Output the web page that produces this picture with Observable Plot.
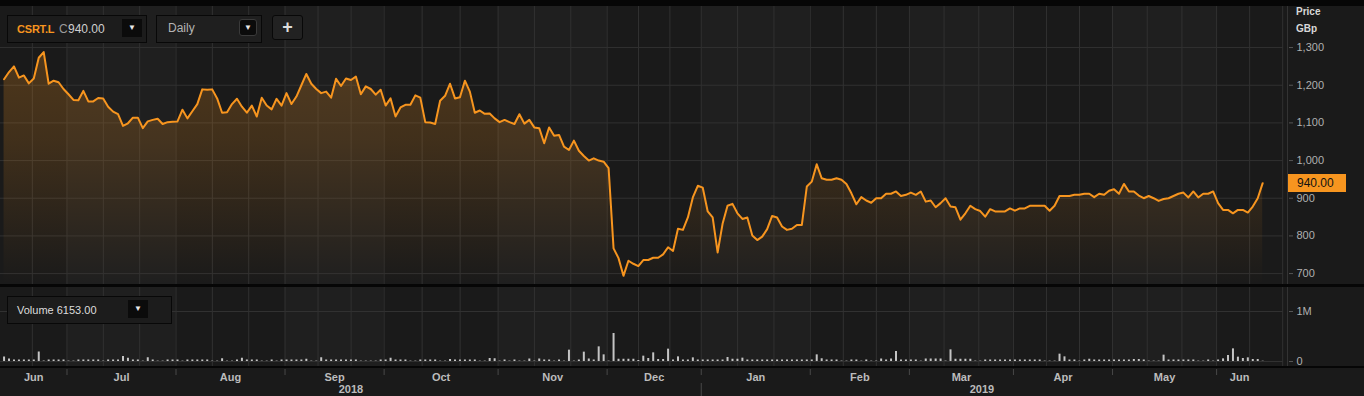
<!DOCTYPE html>
<html>
<head>
<meta charset="utf-8">
<script src="https://cdn.jsdelivr.net/npm/d3@7"></script>
<script src="https://cdn.jsdelivr.net/npm/@observablehq/plot@0.6"></script>
<style>
  body { margin: 0; background: #1a1a1a; }
  #root { position: relative; width: 1364px; height: 396px; overflow: hidden; background: #1a1a1a;
          font-family: "Liberation Sans", Arial, sans-serif; }
  #root > svg { position: absolute; left: 0; }
  .abs { position: absolute; box-sizing: border-box; }
  .bar { background: #060606; left: 0; width: 1364px; }
  .box { border: 1px solid #080808; background: #1c1c1c; }
  .btn { background: #0b0b0b; color: #e8e8e8; font-size: 8px; text-align: center; }
  .txt { white-space: nowrap; line-height: 14px; }
</style>
</head>
<body>
<div id="root"></div>
<script>
// ---------------- data ----------------
const calendarStart = "2018-06-01";
const calendarEnd = "2019-07-05";
const marketHolidays = ["2018-08-27", "2018-12-25", "2018-12-26", "2019-01-01",
                        "2019-04-19", "2019-04-22", "2019-05-06", "2019-05-27"];
const firstDate = "2018-06-13";

// daily close, GBp (one value per trading day from firstDate)
const closes = [
  1216,1235,1250,1220,1226,1205,1218,1273,1288,1204,
  1212,1208,1190,1176,1161,1160,1185,1157,1157,1166,
  1165,1143,1130,1123,1092,1099,1114,1114,1086,1104,
  1108,1111,1097,1102,1103,1104,1135,1112,1131,1150,
  1189,1188,1189,1165,1127,1128,1150,1164,1143,1127,
  1146,1117,1167,1146,1136,1164,1146,1179,1150,1170,
  1200,1230,1204,1190,1179,1183,1167,1217,1198,1218,
  1214,1223,1176,1197,1190,1175,1188,1146,1165,1117,
  1141,1148,1148,1173,1167,1102,1101,1097,1159,1172,
  1204,1165,1168,1212,1183,1127,1133,1124,1125,1112,
  1102,1108,1102,1097,1123,1098,1108,1088,1086,1046,
  1088,1066,1068,1037,1028,1053,1026,1012,1000,1006,
  1000,997,980,767,741,694,734,726,720,736,
  736,742,742,751,770,760,819,816,849,902,
  933,928,865,849,756,832,880,885,860,845,
  849,801,789,798,818,853,849,825,816,819,
  829,829,931,944,990,953,949,949,953,949,
  938,913,884,903,894,888,900,900,912,912,
  918,906,909,915,909,918,891,894,876,887,
  900,878,876,843,860,880,871,866,851,871,
  865,865,865,873,867,873,873,880,880,880,
  880,867,880,906,906,906,909,909,912,912,
  903,912,909,920,924,912,938,918,918,907,
  900,906,900,893,898,900,906,912,915,902,
  918,902,912,912,918,887,869,869,860,869,
  869,862,878,900,940
];

// daily volume, thousands of shares
const volumesK = [
  90,50,30,30,30,30,30,190,10,30,
  30,30,30,8,8,30,30,30,30,30,
  8,30,30,30,100,65,30,30,8,75,
  30,8,8,30,30,30,8,30,30,30,
  30,30,8,8,55,8,8,30,65,30,
  30,30,8,8,30,8,30,30,30,30,
  30,45,8,8,75,30,30,30,30,30,
  30,30,8,8,8,8,30,30,65,30,
  30,30,8,8,30,30,30,30,8,8,
  40,30,30,30,30,30,8,8,60,55,
  8,30,8,30,8,8,50,8,50,30,
  30,8,30,8,227,8,30,187,50,30,
  293,133,8,560,45,45,45,45,20,107,
  60,173,40,40,247,30,93,30,30,73,
  30,30,30,30,30,30,80,45,45,67,
  30,30,30,30,30,30,30,30,30,30,
  30,30,30,30,133,55,30,30,30,8,
  8,30,30,8,30,8,8,50,30,50,
  200,30,30,30,30,8,50,50,50,50,
  8,233,45,45,45,45,8,8,30,30,
  30,30,30,30,30,30,30,30,30,30,
  8,8,8,147,93,30,30,8,30,45,
  30,30,30,30,30,30,30,30,40,40,
  30,8,8,8,127,30,30,30,30,30,
  30,8,8,30,8,30,53,120,253,87,
  60,73,40,40,6.153
];

const priceTicks = [700, 800, 900, 1000, 1100, 1200, 1300];
const volumeTicks = [0, 1000000];
const tickerName = "CSRT.L";
const lastCloseText = "940.00";
const lastVolumeText = "6153.00";
const intervalName = "Daily";

// ---------------- layout constants ----------------
const W = 1364, MR = 81;
const FONT = '"Liberation Sans", Arial, sans-serif';
const xDomain = [7.28, 266.2];          // trading-day index range shown
const priceDomain = [671, 1409];
const volumeDomain = [-100000, 1480000];
const ORANGE = "#f7951f";
const GRID = "#313131";
const SHIFT = 0.3;

// ---------------- trading calendar ----------------
const tradingDays = [];
for (let d = new Date(calendarStart + "T00:00:00Z"); d <= new Date(calendarEnd + "T00:00:00Z"); d.setUTCDate(d.getUTCDate() + 1)) {
  const wd = d.getUTCDay();
  const iso = d.toISOString().slice(0, 10);
  if (wd === 0 || wd === 6 || marketHolidays.includes(iso)) continue;
  tradingDays.push(iso);
}
const first = tradingDays.indexOf(firstDate);
const n = Math.min(closes.length, volumesK.length);
const series = d3.range(n).map(k => ({c: first + k, date: tradingDays[first + k], price: closes[k], volume: volumesK[k] * 1000}));
const lastC = series[n - 1].c;

const months = [];
tradingDays.forEach((d, i) => {
  const key = d.slice(0, 7);
  if (!months.length || months[months.length - 1].key !== key) months.push({key, start: i});
});
months.forEach((m, k) => {
  m.end = k + 1 < months.length ? months[k + 1].start : tradingDays.length;
  m.x1 = m.start - SHIFT; m.x2 = m.end - SHIFT;
  m.shade = k % 2 === 0 ? "#1a1a1a" : "#1f1f1f";
  m.name = d3.utcFormat("%b")(new Date(m.key + "-01T00:00:00Z"));
  m.year = m.key.slice(0, 4);
});
const gridXs = months.flatMap(m => [0, 1, 2].map(k => m.x1 + k * (m.x2 - m.x1) / 3))
  .filter(v => v >= xDomain[0] && v <= xDomain[1]);
const monthTicks = months.map(m => m.x1).filter(v => v > xDomain[0] && v < xDomain[1]);
const monthLabels = months.filter(m => m.x2 > xDomain[0] && m.x1 < lastC)
  .map(m => ({x: (Math.max(m.x1, xDomain[0]) + Math.min(m.x2, lastC)) / 2, text: m.name}));
const years = d3.groups(months, m => m.year).map(([y, ms]) => ({year: y, x1: ms[0].x1, x2: ms[ms.length - 1].x2}));
const yearLabels = years.filter(y => y.x2 > xDomain[0] && y.x1 < lastC)
  .map(y => ({x: (Math.max(y.x1, xDomain[0]) + Math.min(y.x2, lastC)) / 2, text: y.year}));
const yearTicks = years.map(y => y.x1).filter(v => v > xDomain[0] && v < xDomain[1]);
const monthLabelMap = new Map(monthLabels.map(d => [d.x, d.text]));
const yearLabelMap = new Map(yearLabels.map(d => [d.x, d.text]));

// ---------------- price panel ----------------
const priceChart = Plot.plot({
  width: W, height: 284, marginLeft: 0, marginRight: MR, marginTop: 6, marginBottom: 0,
  x: {domain: xDomain, axis: null},
  y: {domain: priceDomain, axis: null},
  style: {background: "transparent", overflow: "visible", fontFamily: FONT},
  marks: [
    Plot.rect(months, {x1: "x1", x2: "x2", fill: "shade", clip: true}),
    Plot.gridY(priceTicks, {stroke: GRID, strokeOpacity: 1}),
    Plot.ruleX(gridXs, {stroke: GRID, strokeOpacity: 1}),
    Plot.areaY(series, {x: "c", y1: priceDomain[0], y2: "price", fill: "url(#priceGrad)"}),
    Plot.lineY(series, {x: "c", y: "price", stroke: ORANGE, strokeWidth: 2}),
    Plot.ruleX([xDomain[1]], {stroke: "#333", dx: 4}),
    Plot.axisY(priceTicks, {anchor: "right", label: null, tickSize: 4, tickPadding: 4, dx: 5,
      tickFormat: d3.format(","), stroke: "#555", fill: "#b0b0b0", fontSize: 11})
  ]
});
const ys = priceChart.scale("y");
const defs = document.createElementNS("http://www.w3.org/2000/svg", "defs");
const gy1 = ys.apply(priceTicks[priceTicks.length - 1]), gy2 = ys.apply(priceDomain[0]);
defs.innerHTML = `<linearGradient id="priceGrad" gradientUnits="userSpaceOnUse" x1="0" x2="0" y1="${gy1}" y2="${gy2}">
  <stop offset="0" stop-color="${ORANGE}" stop-opacity="0.24"/>
  <stop offset="0.39" stop-color="${ORANGE}" stop-opacity="0.175"/>
  <stop offset="0.77" stop-color="${ORANGE}" stop-opacity="0.065"/>
  <stop offset="1" stop-color="${ORANGE}" stop-opacity="0"/>
</linearGradient>`;
priceChart.prepend(defs);

// ---------------- volume panel ----------------
const volumeChart = Plot.plot({
  width: W, height: 79, marginLeft: 0, marginRight: MR, marginTop: 0, marginBottom: 0,
  x: {domain: xDomain, axis: null},
  y: {domain: volumeDomain, axis: null},
  style: {background: "transparent", overflow: "visible", fontFamily: FONT},
  marks: [
    Plot.rect(months, {x1: "x1", x2: "x2", fill: "shade", clip: true}),
    Plot.gridY(volumeTicks, {stroke: GRID, strokeOpacity: 1}),
    Plot.ruleX(gridXs, {stroke: GRID, strokeOpacity: 1}),
    Plot.ruleX(series, {x: "c", y1: 0, y2: "volume", stroke: "#c4c4c4", strokeWidth: 2}),
    Plot.ruleX([xDomain[1]], {stroke: "#333", dx: 4}),
    Plot.axisY(volumeTicks, {anchor: "right", label: null, tickSize: 4, tickPadding: 4, dx: 5,
      tickFormat: d => d === 0 ? "0" : d3.format(".0s")(d), stroke: "#555", fill: "#b0b0b0", fontSize: 11})
  ]
});

// ---------------- time axis ----------------
const axisChart = Plot.plot({
  width: W, height: 28, marginLeft: 0, marginRight: MR, marginTop: 6, marginBottom: 22,
  x: {domain: xDomain, axis: null},
  style: {background: "transparent", overflow: "visible", fontFamily: FONT},
  marks: [
    Plot.axisX(monthTicks, {anchor: "top", label: null, tickSize: 6, tickFormat: () => "", stroke: "#484848"}),
    Plot.axisX(monthLabels.map(d => d.x), {anchor: "bottom", label: null, tickSize: 0, tickPadding: 0, dy: -1,
      tickFormat: d => monthLabelMap.get(d), fill: "#bcbcbc", fontSize: 11, fontWeight: "bold"}),
    Plot.axisX(yearLabels.map(d => d.x), {anchor: "bottom", label: null, tickSize: 0, tickPadding: 0, dy: 11,
      tickFormat: d => yearLabelMap.get(d), fill: "#bcbcbc", fontSize: 11, fontWeight: "bold"}),
    Plot.axisX(yearTicks, {anchor: "bottom", label: null, tickSize: 13, dy: 9, tickFormat: () => "", stroke: "#484848"})
  ]
});

// ---------------- assemble ----------------
const root = document.getElementById("root");
priceChart.style.top = "0px"; root.appendChild(priceChart);
volumeChart.style.top = "287px"; root.appendChild(volumeChart);
axisChart.style.top = "368px"; root.appendChild(axisChart);

function el(cls, css, html) {
  const d = document.createElement("div");
  d.className = "abs " + cls;
  Object.assign(d.style, css);
  if (html != null) d.innerHTML = html;
  root.appendChild(d);
  return d;
}
el("bar", {top: "0px", height: "6px"});
el("bar", {top: "284px", height: "3px"});
el("bar", {top: "366px", height: "2px"});

// right-axis heading
el("txt", {left: "1296px", top: "5px", fontSize: "10px", fontWeight: "bold", color: "#d8d8d8"}, "Price");
el("txt", {left: "1296px", top: "22px", fontSize: "10px", fontWeight: "bold", color: "#d8d8d8"}, "GBp");

// last price tag
el("", {left: "1288px", top: (ys.apply(closes[n - 1]) - 9) + "px", width: "58px", height: "18px",
  background: ORANGE, color: "#111", fontSize: "12px", lineHeight: "18px", paddingLeft: "9px"}, lastCloseText);

// header controls
el("box", {left: "7px", top: "15px", width: "140px", height: "28px"});
el("txt", {left: "17px", top: "22px", fontSize: "11px", fontWeight: "bold", color: ORANGE, letterSpacing: "-0.2px"}, tickerName);
el("txt", {left: "59px", top: "22px", fontSize: "12px", color: "#9a9a9a"}, "C");
el("txt", {left: "68px", top: "22px", fontSize: "12px", color: "#cfcfcf"}, lastCloseText);
el("btn", {left: "122px", top: "19px", width: "20px", height: "18px", lineHeight: "18px"}, "&#9660;");

el("box", {left: "156px", top: "15px", width: "106px", height: "28px", background: "#1f1f1f"});
el("txt", {left: "168px", top: "21px", fontSize: "12px", color: "#b4b4b4"}, intervalName);
el("btn", {left: "239px", top: "19px", width: "18px", height: "17px", lineHeight: "16px",
  border: "1px solid #3a3a3a", borderRadius: "3px"}, "&#9660;");

el("box", {left: "272px", top: "15px", width: "31px", height: "25px", borderRadius: "3px", background: "#222",
  color: "#dcdcdc", fontSize: "18px", fontWeight: "bold", textAlign: "center", lineHeight: "22px"}, "+");

el("box", {left: "7px", top: "296px", width: "165px", height: "28px"});
el("txt", {left: "17px", top: "303px", fontSize: "11px", color: "#dcdcdc"}, "Volume " + lastVolumeText);
el("btn", {left: "128px", top: "300px", width: "20px", height: "18px", lineHeight: "18px"}, "&#9660;");
</script>
</body>
</html>
